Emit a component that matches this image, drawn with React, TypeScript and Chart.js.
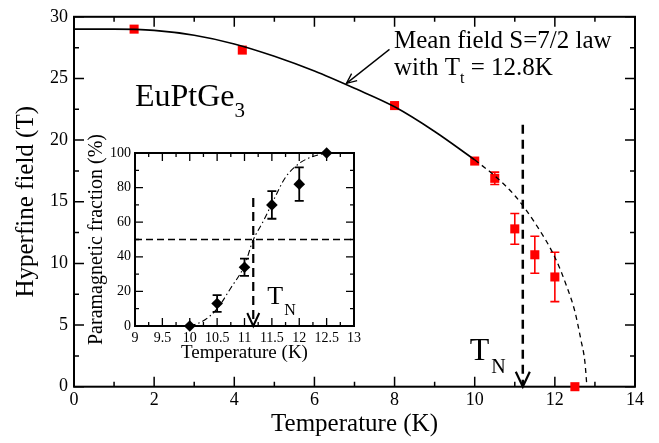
import React, { useEffect, useRef } from "react";
import { Chart, registerables } from "chart.js";
Chart.register(...registerables);

const FONT = "'Liberation Serif', 'Times New Roman', Times, serif";

// ---------- Main panel data ----------
const mainTemps = [1.5, 4.2, 8, 10, 10.5, 11, 11.5, 12, 12.5];
const mainFields = [29.0, 27.3, 22.8, 18.3, 16.9, 12.8, 10.7, 8.9, 0];
const mainErrors = [0, 0, 0, 0, 0.5, 1.25, 1.5, 2.0, 0];

// Mean-field S=7/2 curve
const fitSolidT = [0, 1, 2, 3, 4, 5, 6, 7, 8, 9, 10];
const fitSolidB = [29.0, 29.0, 28.9, 28.5, 27.8, 26.8, 25.6, 24.2, 22.7, 20.7, 18.4];
const fitDashT = [10, 10.5, 11, 11.5, 12, 12.3, 12.5, 12.65, 12.75, 12.8];
const fitDashB = [18.4, 17.1, 15.5, 13.3, 10.5, 8.1, 6.1, 3.8, 2.0, 0];

const TN_MAIN = 11.2;
const TN_MAIN_TOP = 21.25;
const ARROW_T = 6.8;
const ARROW_B = 24.6;

const mainXTicks = [0, 2, 4, 6, 8, 10, 12, 14];
const mainXLabels = ["0", "2", "4", "6", "8", "10", "12", "14"];
const mainYTicks = [0, 5, 10, 15, 20, 25, 30];
const mainYLabels = ["0", "5", "10", "15", "20", "25", "30"];

// ---------- Inset data ----------
const insetTemps = [10, 10.5, 11, 11.5, 12, 12.5];
const insetFrac = [0, 13, 34, 70, 82, 100];
const insetErr = [0, 4.8, 5, 8, 9.7, 0];

const sigmoidT = [10, 10.25, 10.5, 10.75, 11, 11.15, 11.35, 11.55, 11.75, 12, 12.25, 12.5];
const sigmoidF = [0, 3, 10, 22, 35, 49, 61, 74, 86, 94, 98, 100];

const TN_INSET = 11.16;
const TN_INSET_TOP = 74;
const HALF_LEVEL = 50;

const insetXTicks = [9, 9.5, 10, 10.5, 11, 11.5, 12, 12.5, 13];
const insetXLabels = ["9", "9.5", "10", "10.5", "11", "11.5", "12", "12.5", "13"];
const insetYTicks = [0, 20, 40, 60, 80, 100];
const insetYLabels = ["0", "20", "40", "60", "80", "100"];

const pts = (xs: number[], ys: number[]) => xs.map((x, i) => ({ x, y: ys[i] }));

type FrameCfg = {
  xMinor: number; xMajor: number; yMinor: number; yMajor: number;
  majorLen: number; minorLen: number; frameWidth: number; tickWidth: number;
  errCap: number; errWidth: number;
  annotate: (chart: any) => void;
};

function makePlugin(id: string, cfg: FrameCfg) {
  return {
    id,
    beforeDatasetsDraw(chart: any) {
      const ctx = chart.ctx;
      const { left, right, top, bottom } = chart.chartArea;
      const xs = chart.scales.x;
      const ys = chart.scales.y;
      ctx.save();
      ctx.strokeStyle = "#000";
      ctx.lineWidth = cfg.frameWidth;
      ctx.strokeRect(left, top, right - left, bottom - top);
      ctx.lineWidth = cfg.tickWidth;
      ctx.beginPath();
      for (let v = xs.min; v <= xs.max + 1e-9; v += cfg.xMinor) {
        const r = v / cfg.xMajor;
        const major = Math.abs(r - Math.round(r)) < 1e-6;
        const len = major ? cfg.majorLen : cfg.minorLen;
        const px = xs.getPixelForValue(v);
        ctx.moveTo(px, bottom); ctx.lineTo(px, bottom - len);
        ctx.moveTo(px, top); ctx.lineTo(px, top + len);
      }
      for (let v = ys.min; v <= ys.max + 1e-9; v += cfg.yMinor) {
        const r = v / cfg.yMajor;
        const major = Math.abs(r - Math.round(r)) < 1e-6;
        const len = major ? cfg.majorLen : cfg.minorLen;
        const py = ys.getPixelForValue(v);
        ctx.moveTo(left, py); ctx.lineTo(left + len, py);
        ctx.moveTo(right, py); ctx.lineTo(right - len, py);
      }
      ctx.stroke();
      // error bars
      chart.data.datasets.forEach((ds: any) => {
        if (!ds.errors) return;
        ctx.strokeStyle = ds.errColor || "#000";
        ctx.lineWidth = cfg.errWidth;
        ds.data.forEach((p: any, j: number) => {
          const e = ds.errors[j];
          if (!e) return;
          const px = xs.getPixelForValue(p.x);
          const y1 = ys.getPixelForValue(p.y + e);
          const y2 = ys.getPixelForValue(p.y - e);
          ctx.beginPath();
          ctx.moveTo(px, y1); ctx.lineTo(px, y2);
          ctx.moveTo(px - cfg.errCap, y1); ctx.lineTo(px + cfg.errCap, y1);
          ctx.moveTo(px - cfg.errCap, y2); ctx.lineTo(px + cfg.errCap, y2);
          ctx.stroke();
        });
      });
      ctx.restore();
    },
    afterDatasetsDraw(chart: any) {
      chart.ctx.save();
      cfg.annotate(chart);
      chart.ctx.restore();
    },
  };
}

function arrowHead(ctx: any, tipX: number, tipY: number, fromX: number, fromY: number, len: number, spread: number, width: number) {
  const a = Math.atan2(tipY - fromY, tipX - fromX);
  ctx.lineWidth = width;
  ctx.setLineDash([]);
  ctx.beginPath();
  ctx.moveTo(tipX - len * Math.cos(a - spread), tipY - len * Math.sin(a - spread));
  ctx.lineTo(tipX, tipY);
  ctx.lineTo(tipX - len * Math.cos(a + spread), tipY - len * Math.sin(a + spread));
  ctx.stroke();
}

function subText(ctx: any, x: number, y: number, main: string, mainSize: number, sub: string, subSize: number, drop: number, gap: number) {
  ctx.font = `${mainSize}px ${FONT}`;
  ctx.fillText(main, x, y);
  const w = ctx.measureText(main).width;
  ctx.font = `${subSize}px ${FONT}`;
  ctx.fillText(sub, x + w + gap, y + drop);
  return x + w + gap + ctx.measureText(sub).width;
}

export default function App() {
  const mainRef = useRef<HTMLCanvasElement>(null);
  const insetRef = useRef<HTMLCanvasElement>(null);

  useEffect(() => {
    const tickFont = (size: number) => ({ family: FONT, size });

    const mainPlugin = makePlugin("mainFrame", {
      xMinor: 1, xMajor: 2, yMinor: 2.5, yMajor: 5,
      majorLen: 10, minorLen: 5, frameWidth: 2, tickWidth: 1.5,
      errCap: 4.5, errWidth: 1.6,
      annotate: (chart: any) => {
        const ctx = chart.ctx;
        const xs = chart.scales.x, ys = chart.scales.y;
        ctx.fillStyle = "#000";
        ctx.strokeStyle = "#000";
        ctx.textBaseline = "alphabetic";
        ctx.textAlign = "left";
        // compound label
        subText(ctx, 135, 106, "EuPtGe", 32, "3", 21, 11, 0);
        // mean-field annotation
        ctx.font = `25px ${FONT}`;
        ctx.fillText("Mean field S=7/2 law", 394, 48);
        const xEnd = subText(ctx, 394, 75, "with T", 25, "t", 16, 8, 0);
        ctx.font = `25px ${FONT}`;
        ctx.fillText(" = 12.8K", xEnd, 75);
        // pointer arrow
        const tipX = xs.getPixelForValue(ARROW_T);
        const tipY = ys.getPixelForValue(ARROW_B);
        const tailX = tipX + 43, tailY = tipY - 34;
        ctx.lineWidth = 1.3;
        ctx.beginPath();
        ctx.moveTo(tailX, tailY); ctx.lineTo(tipX, tipY);
        ctx.stroke();
        arrowHead(ctx, tipX, tipY, tailX, tailY, 11, 0.42, 1.3);
        // T_N arrowhead
        const ax = xs.getPixelForValue(TN_MAIN);
        const ay = ys.getPixelForValue(0);
        ctx.lineWidth = 2.2;
        ctx.beginPath();
        ctx.moveTo(ax - 7, ay - 15); ctx.lineTo(ax, ay); ctx.lineTo(ax + 7, ay - 15);
        ctx.stroke();
        subText(ctx, ax - 53, ay - 27, "T", 32, "N", 20, 13, 2);
      },
    });

    const main = new Chart(mainRef.current as HTMLCanvasElement, {
      type: "scatter",
      data: {
        datasets: [
          {
            type: "line", data: pts(fitSolidT, fitSolidB), borderColor: "#000", borderWidth: 1.6,
            pointRadius: 0, cubicInterpolationMode: "monotone", fill: false,
          } as any,
          {
            type: "line", data: pts(fitDashT, fitDashB), borderColor: "#000", borderWidth: 1.3,
            borderDash: [5, 4], pointRadius: 0, cubicInterpolationMode: "monotone", fill: false,
          } as any,
          {
            type: "line", data: [{ x: TN_MAIN, y: TN_MAIN_TOP }, { x: TN_MAIN, y: 0 }], borderColor: "#000",
            borderWidth: 2.5, borderDash: [9, 6], pointRadius: 0, fill: false,
          } as any,
          {
            type: "scatter", data: pts(mainTemps, mainFields), pointStyle: "rect", pointRadius: 6.4,
            backgroundColor: "#ff0000", borderColor: "#ff0000", borderWidth: 0, clip: false,
            errors: mainErrors, errColor: "#ff0000",
          } as any,
        ],
      },
      options: {
        animation: false,
        responsive: false,
        maintainAspectRatio: false,
        layout: { padding: { top: 13.3, right: 24, left: 0, bottom: 0 } },
        plugins: { legend: { display: false }, tooltip: { enabled: false } },
        scales: {
          x: {
            type: "linear", min: 0, max: 14,
            afterBuildTicks: (s: any) => { s.ticks = mainXTicks.map((v) => ({ value: v })); },
            ticks: { callback: (_v: any, i: number) => mainXLabels[i], font: tickFont(18), color: "#000", padding: 3, maxRotation: 0, autoSkip: false },
            grid: { display: false, drawTicks: false },
            border: { display: false },
            title: { display: true, text: "Temperature (K)", font: { family: FONT, size: 25 }, color: "#000", padding: { top: 0, bottom: 4 } },
            afterFit: (s: any) => { s.height = 56.3; },
          },
          y: {
            type: "linear", min: 0, max: 30,
            afterBuildTicks: (s: any) => { s.ticks = mainYTicks.map((v) => ({ value: v })); },
            ticks: { callback: (_v: any, i: number) => mainYLabels[i], font: tickFont(18), color: "#000", padding: 6, autoSkip: false },
            grid: { display: false, drawTicks: false },
            border: { display: false },
            title: { display: true, text: "Hyperfine field (T)", font: { family: FONT, size: 25 }, color: "#000", padding: { top: 11, bottom: 0 } },
            afterFit: (s: any) => { s.width = 74; },
          },
        },
      } as any,
      plugins: [mainPlugin],
    });

    const insetPlugin = makePlugin("insetFrame", {
      xMinor: 0.25, xMajor: 0.5, yMinor: 10, yMajor: 20,
      majorLen: 8, minorLen: 4, frameWidth: 2, tickWidth: 1.3,
      errCap: 4.5, errWidth: 1.8,
      annotate: (chart: any) => {
        const ctx = chart.ctx;
        const xs = chart.scales.x, ys = chart.scales.y;
        ctx.fillStyle = "#000";
        ctx.strokeStyle = "#000";
        ctx.textBaseline = "alphabetic";
        ctx.textAlign = "left";
        const ax = xs.getPixelForValue(TN_INSET);
        const ay = ys.getPixelForValue(0);
        ctx.lineWidth = 2;
        ctx.beginPath();
        ctx.moveTo(ax - 6, ay - 13); ctx.lineTo(ax, ay); ctx.lineTo(ax + 6, ay - 13);
        ctx.stroke();
        subText(ctx, ax + 14, ay - 21.7, "T", 26, "N", 16, 10.7, 1);
      },
    });

    const inset = new Chart(insetRef.current as HTMLCanvasElement, {
      type: "scatter",
      data: {
        datasets: [
          {
            type: "line", data: [{ x: 9, y: HALF_LEVEL }, { x: 13, y: HALF_LEVEL }], borderColor: "#000",
            borderWidth: 1.4, borderDash: [7, 4], pointRadius: 0, fill: false,
          } as any,
          {
            type: "line", data: pts(sigmoidT, sigmoidF), borderColor: "#000", borderWidth: 1.1,
            borderDash: [6, 3, 1.5, 3], pointRadius: 0, cubicInterpolationMode: "monotone", fill: false,
          } as any,
          {
            type: "line", data: [{ x: TN_INSET, y: TN_INSET_TOP }, { x: TN_INSET, y: 0 }], borderColor: "#000",
            borderWidth: 2.2, borderDash: [9, 5], pointRadius: 0, fill: false,
          } as any,
          {
            type: "scatter", data: pts(insetTemps, insetFrac), pointStyle: "rectRot", pointRadius: 5.8,
            backgroundColor: "#000", borderColor: "#000", borderWidth: 0, clip: false,
            errors: insetErr, errColor: "#000",
          } as any,
        ],
      },
      options: {
        animation: false,
        responsive: false,
        maintainAspectRatio: false,
        layout: { padding: { top: 33, right: 11, left: 0, bottom: 0 } },
        plugins: { legend: { display: false }, tooltip: { enabled: false } },
        scales: {
          x: {
            type: "linear", min: 9, max: 13,
            afterBuildTicks: (s: any) => { s.ticks = insetXTicks.map((v) => ({ value: v })); },
            ticks: { callback: (_v: any, i: number) => insetXLabels[i], font: tickFont(14), color: "#000", padding: 4, maxRotation: 0, autoSkip: false },
            grid: { display: false, drawTicks: false },
            border: { display: false },
            title: { display: true, text: "Temperature (K)", font: { family: FONT, size: 19 }, color: "#000", padding: { top: 0, bottom: 5.5 } },
            afterFit: (s: any) => { s.height = 44; },
          },
          y: {
            type: "linear", min: 0, max: 100,
            afterBuildTicks: (s: any) => { s.ticks = insetYTicks.map((v) => ({ value: v })); },
            ticks: { callback: (_v: any, i: number) => insetYLabels[i], font: tickFont(14), color: "#000", padding: 4, autoSkip: false },
            grid: { display: false, drawTicks: false },
            border: { display: false },
            title: { display: true, text: "Paramagnetic fraction (%)", font: { family: FONT, size: 20 }, color: "#000", padding: { top: 4.5, bottom: 0 } },
            afterFit: (s: any) => { s.width = 55; },
          },
        },
      } as any,
      plugins: [insetPlugin],
    });

    return () => {
      main.destroy();
      inset.destroy();
    };
  }, []);

  return (
    <div style={{ position: "fixed", left: 0, top: 0, width: 659, height: 443, background: "#fff" }}>
      <canvas ref={mainRef} width={659} height={443} style={{ position: "absolute", left: 0, top: 0 }} />
      <canvas ref={insetRef} width={285} height={250} style={{ position: "absolute", left: 80, top: 120 }} />
    </div>
  );
}
